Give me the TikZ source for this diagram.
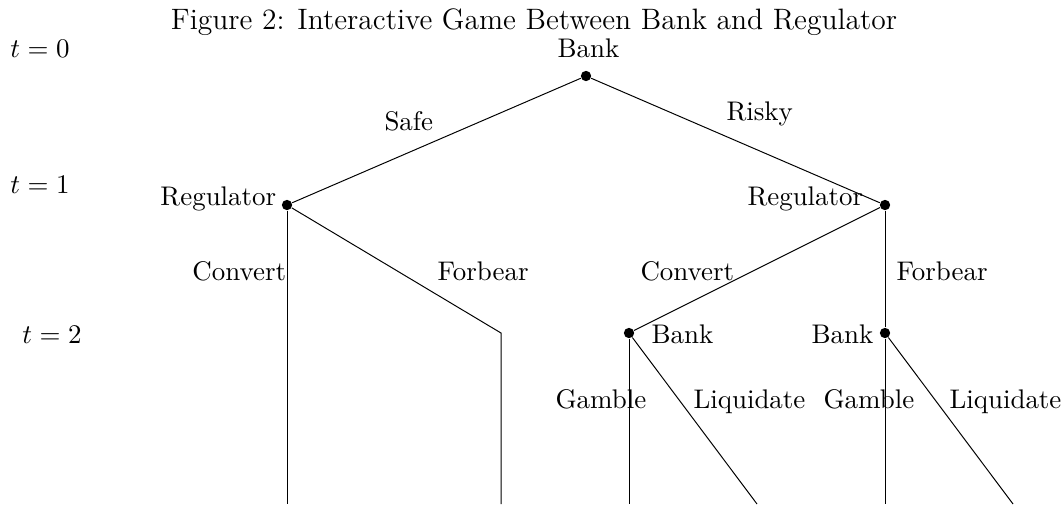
\documentclass[tikz,border=0pt]{standalone}
\begin{document}
\begin{tikzpicture}[x=0.4065pt,y=-0.4065pt,
	dot/.style={circle,fill,inner sep=0pt,minimum size=4.2pt},
	lab/.style={anchor=base west,inner sep=0pt,font=\fontsize{10.95}{13.6}\selectfont}]
	\useasboundingbox (0,0) rectangle (1062,504);

	\node[anchor=base,inner sep=0pt,font=\fontsize{12}{14.5}\selectfont] (Title) at (534,29) {Figure 2: Interactive Game Between Bank and Regulator};

	%time
	\node[lab] (T0) at (10,57) {$t=0$};
	\node[lab] (T1) at (10,193) {$t=1$};
	\node[lab] (T2) at (22,343) {$t=2$};

	%decision points
	\node[dot] (Bank0) at (586,76) {};
	\node[dot] (RegSafe) at (287,205) {};
	\node[dot] (RegRisky) at (885,205) {};
	\node[dot] (BankConv) at (629,333) {};
	\node[dot] (BankForb) at (885,333) {};

	\coordinate (ForbBend) at (501,333);
	\coordinate (EndConvSafe) at (287,504);
	\coordinate (EndForbSafe) at (501,504);
	\coordinate (EndGambleA) at (629,504);
	\coordinate (EndLiqA) at (757,504);
	\coordinate (EndGambleB) at (885,504);
	\coordinate (EndLiqB) at (1013,504);

	%players
	\node[lab] (LBank0) at (557,57) {Bank};
	\node[lab] (LRegSafe) at (160,205) {Regulator};
	\node[lab] (LRegRisky) at (747,205) {Regulator};
	\node[lab] (LBankConv) at (651,343) {Bank};
	\node[lab] (LBankForb) at (811,343) {Bank};

	%actions
	\node[lab] (Safe) at (384,130) {Safe};
	\node[lab] (Risky) at (726,120) {Risky};
	\node[lab] (ConvA) at (192,280) {Convert};
	\node[lab] (ForbA) at (437,280) {Forbear};
	\node[lab] (ConvB) at (640,280) {Convert};
	\node[lab] (ForbB) at (896,280) {Forbear};
	\node[lab] (GambA) at (555,408) {Gamble};
	\node[lab] (LiqA) at (693,408) {Liquidate};
	\node[lab] (GambB) at (823,408) {Gamble};
	\node[lab] (LiqB) at (949,408) {Liquidate};

	%branches
	\draw (Bank0) -- (RegSafe);
	\draw (Bank0) -- (RegRisky);
	\draw (RegSafe) -- (EndConvSafe);
	\draw (RegSafe) -- (ForbBend) -- (EndForbSafe);
	\draw (RegRisky) -- (BankConv);
	\draw (RegRisky) -- (BankForb);
	\draw (BankConv) -- (EndGambleA);
	\draw (BankConv) -- (EndLiqA);
	\draw (BankForb) -- (EndGambleB);
	\draw (BankForb) -- (EndLiqB);
\end{tikzpicture}
\end{document}
